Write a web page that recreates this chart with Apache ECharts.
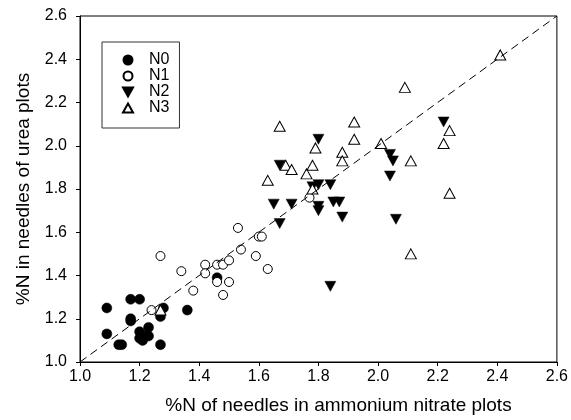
<!DOCTYPE html>
<html>
<head>
<meta charset="utf-8">
<script src="https://cdn.jsdelivr.net/npm/echarts@6/dist/echarts.min.js"></script>
<style>
  html, body { margin: 0; padding: 0; background: #fff; }
  #chart { width: 571px; height: 420px; }
</style>
</head>
<body>
<div id="chart"></div>
<script>
// [x, y] pairs
var n0 = [[1.09, 1.25], [1.09, 1.13], [1.13, 1.08], [1.14, 1.08], [1.17, 1.29], [1.20, 1.29],
  [1.17, 1.20], [1.17, 1.19], [1.20, 1.14], [1.20, 1.11], [1.21, 1.10], [1.22, 1.12],
  [1.23, 1.16], [1.23, 1.12], [1.27, 1.21], [1.28, 1.25], [1.27, 1.08], [1.36, 1.24], [1.46, 1.39]];
var n1 = [[1.24, 1.24], [1.27, 1.49], [1.34, 1.42], [1.38, 1.33], [1.42, 1.45], [1.42, 1.41],
  [1.46, 1.45], [1.48, 1.45], [1.50, 1.47], [1.46, 1.37], [1.50, 1.37], [1.48, 1.31],
  [1.54, 1.52], [1.53, 1.62], [1.59, 1.49], [1.60, 1.58], [1.61, 1.58], [1.63, 1.43], [1.77, 1.76]];
var n2 = [[1.65, 1.73], [1.67, 1.91], [1.67, 1.64], [1.71, 1.73], [1.78, 1.81], [1.80, 2.03],
  [1.80, 1.82], [1.84, 1.82], [1.80, 1.72], [1.80, 1.70], [1.85, 1.74], [1.87, 1.74],
  [1.88, 1.67], [1.84, 1.35], [2.04, 1.96], [2.05, 1.93], [2.04, 1.86], [2.06, 1.66], [2.22, 2.11]];
var n3 = [[1.27, 1.24], [1.63, 1.84], [1.67, 2.09], [1.69, 1.91], [1.71, 1.89], [1.76, 1.87],
  [1.78, 1.91], [1.78, 1.80], [1.79, 1.99], [1.88, 1.97], [1.88, 1.93], [1.92, 2.11],
  [1.92, 2.03], [2.01, 2.01], [2.09, 2.27], [2.11, 1.93], [2.11, 1.50], [2.22, 2.01],
  [2.24, 2.07], [2.24, 1.78], [2.41, 2.42]];
var oneToOne = [1.0, 2.6];   // 1:1 line ends

var downTri = 'path://M0,0 L10,0 L5,9 Z';
var upTri = 'path://M5,0 L10,9 L0,9 Z';
var font = 'Liberation Sans, Arial, sans-serif';

var myChart = echarts.init(document.getElementById('chart'));
myChart.setOption({
  animation: false,
  textStyle: {fontFamily: font, color: '#000'},
  grid: {
    left: 80, right: 11, top: 16, bottom: 57,
    show: true, borderColor: '#000', borderWidth: 1
  },
  legend: {
    orient: 'vertical',
    left: 102, top: 42,
    padding: [10, 10, 12, 20],
    borderColor: '#333', borderWidth: 1,
    itemWidth: 10, itemHeight: 9, itemGap: 0,
    textStyle: {fontFamily: font, fontSize: 16, lineHeight: 16, color: '#000', padding: [0, 0, 0, 11]},
    data: ['N0', 'N1', 'N2', 'N3']
  },
  xAxis: {
    type: 'value', min: 1.0, max: 2.6, interval: 0.2,
    name: '%N of needles in ammonium nitrate plots',
    nameLocation: 'middle', nameGap: 34,
    nameTextStyle: {fontFamily: font, fontSize: 19, color: '#000', padding: [0, 0, 0, 40]},
    axisLine: {lineStyle: {color: '#000'}},
    axisTick: {show: true, length: 4, lineStyle: {color: '#000'}},
    axisLabel: {fontSize: 16, color: '#000', margin: 7, formatter: function (v) { return v.toFixed(1); }},
    splitLine: {show: false}
  },
  yAxis: {
    type: 'value', min: 1.0, max: 2.6, interval: 0.2,
    name: '%N in needles of urea plots',
    nameLocation: 'middle', nameGap: 47,
    nameTextStyle: {fontFamily: font, fontSize: 19, color: '#000'},
    axisLine: {show: true, lineStyle: {color: '#000'}},
    axisTick: {show: true, length: 4, lineStyle: {color: '#000'}},
    axisLabel: {fontSize: 16, color: '#000', margin: 13, formatter: function (v) { return v.toFixed(1); }},
    splitLine: {show: false}
  },
  series: [
    {
      name: 'N0', type: 'scatter', symbol: 'circle', symbolSize: 10,
      itemStyle: {color: '#000', borderColor: '#000', borderWidth: 0.5, opacity: 1},
      data: n0,
      markLine: {
        silent: true, symbol: 'none', label: {show: false},
        lineStyle: {color: '#000', type: [8, 5], width: 1},
        data: [[{coord: [oneToOne[0], oneToOne[0]]}, {coord: [oneToOne[1], oneToOne[1]]}]]
      }
    },
    {
      name: 'N1', type: 'scatter', symbol: 'circle', symbolSize: 9,
      itemStyle: {color: '#fff', borderColor: '#000', borderWidth: 1, opacity: 1},
      data: n1
    },
    {
      name: 'N2', type: 'scatter', symbol: downTri, symbolSize: [11, 10],
      itemStyle: {color: '#000', borderColor: '#000', borderWidth: 0.5, opacity: 1},
      data: n2
    },
    {
      name: 'N3', type: 'scatter', symbol: upTri, symbolSize: [11, 10],
      itemStyle: {color: '#fff', borderColor: '#000', borderWidth: 1, opacity: 1},
      data: n3
    }
  ]
});
</script>
</body>
</html>
